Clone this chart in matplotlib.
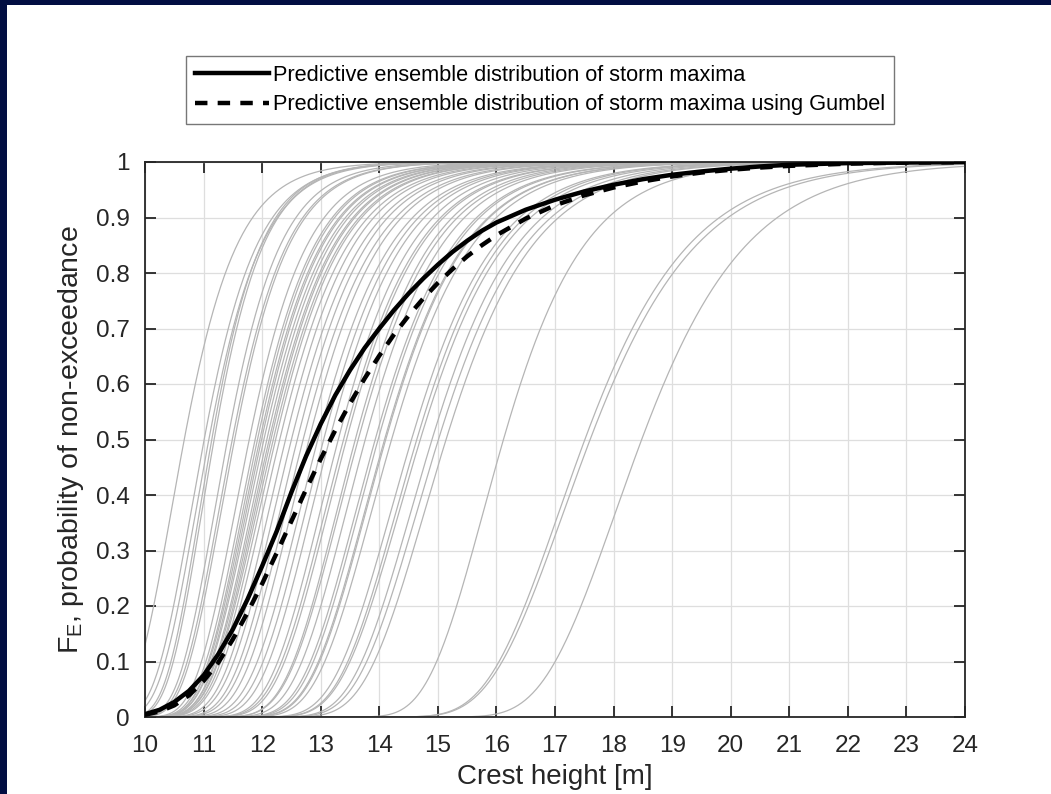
import numpy as np
import matplotlib
matplotlib.use('Agg')
import matplotlib.pyplot as plt
from matplotlib.patches import Rectangle
from matplotlib.lines import Line2D

plt.rcParams['font.family'] = ['Liberation Sans', 'DejaVu Sans']

# ---------------- data ----------------
# Individual ensemble-member storm-maxima distributions (Gumbel shaped):
# median crest height [m] and scale [m] for each grey curve
gray_median = [10.67, 11.01, 11.09, 11.14, 11.18, 11.41, 11.49, 11.53, 11.78, 11.88,
               11.92, 11.96, 11.99, 12.03, 12.08, 12.12, 12.15, 12.19, 12.23, 12.30,
               12.40, 12.50, 12.60, 12.70, 12.80, 12.95, 13.05, 13.15, 13.30, 13.39,
               13.44, 13.59, 13.64, 13.76, 13.93, 13.98, 14.09, 14.11, 14.21, 14.55,
               14.64, 14.70, 14.90, 15.01, 15.14, 16.12, 17.51, 17.60, 18.48]
gray_scale = [0.62, 0.62, 0.62, 0.58, 0.58, 0.62, 0.64, 0.64, 0.68, 0.70,
              0.70, 0.72, 0.72, 0.74, 0.74, 0.76, 0.76, 0.78, 0.78, 0.80,
              0.80, 0.82, 0.82, 0.84, 0.84, 0.86, 0.86, 0.86, 0.86, 0.88,
              0.88, 0.88, 0.90, 0.90, 0.92, 0.92, 0.94, 0.94, 0.95, 0.98,
              0.98, 1.00, 1.00, 1.02, 1.02, 0.95, 1.22, 1.25, 1.23]

# Predictive ensemble distribution (solid black)
ens_x = [10, 10.25, 10.5, 10.75, 11, 11.25, 11.5, 11.75, 12, 12.25, 12.5, 12.75,
         13, 13.25, 13.5, 13.75, 14, 14.25, 14.5, 14.75, 15, 15.25, 15.5, 15.75,
         16, 16.5, 17, 17.5, 18, 18.5, 19, 19.5, 20, 20.5, 21, 22, 23, 24]
ens_F = [0.005, 0.013, 0.027, 0.047, 0.075, 0.113, 0.158, 0.212, 0.272, 0.335,
         0.405, 0.47, 0.528, 0.58, 0.625, 0.665, 0.700, 0.733, 0.763, 0.790,
         0.815, 0.838, 0.858, 0.876, 0.891, 0.914, 0.932, 0.947, 0.959, 0.969,
         0.977, 0.983, 0.988, 0.992, 0.995, 0.998, 0.999, 1.0]

# Predictive ensemble distribution using Gumbel (dashed black)
gum_x = [10, 10.25, 10.5, 10.75, 11, 11.25, 11.5, 11.75, 12, 12.25, 12.5, 12.75,
         13, 13.25, 13.5, 13.75, 14, 14.25, 14.5, 14.75, 15, 15.25, 15.5, 15.75,
         16, 16.5, 17, 17.5, 18, 18.5, 19, 19.5, 20, 20.5, 21, 22, 23, 24]
gum_F = [0.004, 0.010, 0.021, 0.039, 0.065, 0.098, 0.14, 0.188, 0.24, 0.296,
         0.353, 0.41, 0.465, 0.517, 0.565, 0.61, 0.651, 0.689, 0.723, 0.754,
         0.782, 0.807, 0.83, 0.85, 0.868, 0.898, 0.922, 0.94, 0.954, 0.965,
         0.974, 0.981, 0.986, 0.990, 0.993, 0.997, 0.999, 0.9995]

xticks = list(range(10, 25))
yticks = [0, 0.1, 0.2, 0.3, 0.4, 0.5, 0.6, 0.7, 0.8, 0.9, 1.0]
ytick_labels = ['0', '0.1', '0.2', '0.3', '0.4', '0.5', '0.6', '0.7', '0.8', '0.9', '1']

legend_labels = ['Predictive ensemble distribution of storm maxima',
                 'Predictive ensemble distribution of storm maxima using Gumbel']

# ---------------- figure ----------------
W, H = 1051, 794
navy = '#020e42'
txt = '#262626'
fig = plt.figure(figsize=(W / 100, H / 100), dpi=100)
fig.patch.set_facecolor('white')
fig.add_artist(Rectangle((0, 0), 7 / W, 1, transform=fig.transFigure,
                         facecolor=navy, edgecolor='none', zorder=0))
fig.add_artist(Rectangle((0, 1 - 5 / H), 1, 5 / H, transform=fig.transFigure,
                         facecolor=navy, edgecolor='none', zorder=0))

ax = fig.add_axes([145 / W, (H - 717) / H, 820 / W, 555 / H])

xx = np.linspace(10, 24, 900)
for m, s in zip(gray_median, gray_scale):
    mu = m + s * np.log(np.log(2.0))
    F = np.exp(-np.exp(-(xx - mu) / s))
    ax.plot(xx, F, color='#b5b5b5', lw=0.9, zorder=2)

ax.plot(ens_x, ens_F, color='black', lw=3.2, solid_joinstyle='round', zorder=4)
ax.plot(gum_x, gum_F, color='black', lw=3.2, dashes=(2.8, 2.3), zorder=4)

ax.set_xlim(10, 24)
ax.set_ylim(0, 1)
ax.set_xticks(xticks)
ax.set_xticklabels([str(v) for v in xticks])
ax.set_yticks(yticks)
ax.set_yticklabels(ytick_labels)
ax.grid(True, color='#dedede', lw=0.9)
ax.set_axisbelow(True)
ax.tick_params(direction='in', length=8, width=1.3, top=True, right=True,
               labelsize=17.5, pad=11, color=txt, labelcolor=txt)
ax.tick_params(axis='x', pad=13)
for sp in ax.spines.values():
    sp.set_linewidth(1.3)
    sp.set_color(txt)

ax.set_xlabel('Crest height [m]', fontsize=20, color=txt, labelpad=5)
ax.set_ylabel(r'F$_\mathregular{E}$, probability of non-exceedance', fontsize=20.5,
              color=txt, labelpad=7)

handles = [Line2D([], [], color='black', lw=3.2),
           Line2D([], [], color='black', lw=3.2, dashes=(2.8, 2.3))]
leg = fig.legend(handles, legend_labels, loc='upper left',
                 bbox_to_anchor=(186 / W, 1 - 56 / H), bbox_transform=fig.transFigure,
                 frameon=True, fancybox=False, fontsize=15.7, handlelength=3.4,
                 handletextpad=0.2, labelspacing=0.4, borderpad=0.4,
                 borderaxespad=0)
leg.get_frame().set_edgecolor('#555555')
leg.get_frame().set_linewidth(1.0)

fig.savefig('out.png', dpi=100, facecolor=fig.get_facecolor())
